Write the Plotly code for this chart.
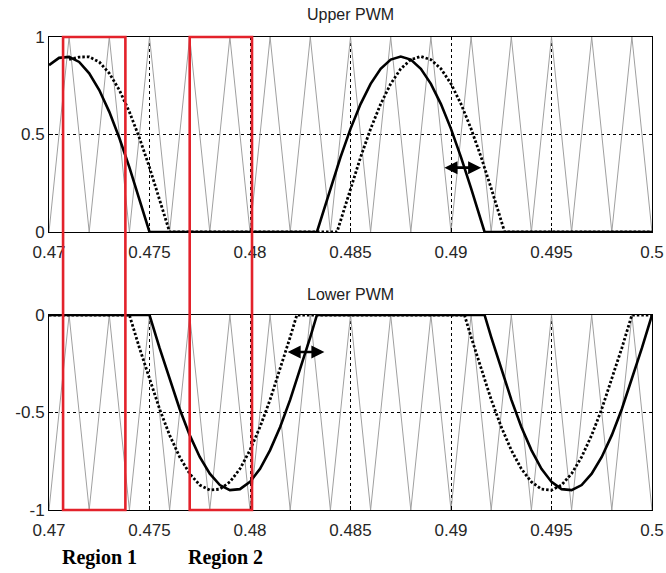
import plotly.graph_objects as go
from plotly.subplots import make_subplots

# ---- carrier (triangle) corner points ----
CARRIER_T = [0.470, 0.471, 0.472, 0.473, 0.474, 0.475, 0.476, 0.477, 0.478, 0.479,
             0.480, 0.481, 0.482, 0.483, 0.484, 0.485, 0.486, 0.487, 0.488, 0.489,
             0.490, 0.491, 0.492, 0.493, 0.494, 0.495, 0.496, 0.497, 0.498, 0.499, 0.500]
UPPER_CARRIER = [0, 1, 0, 1, 0, 1, 0, 1, 0, 1, 0, 1, 0, 1, 0, 1,
                 0, 1, 0, 1, 0, 1, 0, 1, 0, 1, 0, 1, 0, 1, 0]
LOWER_CARRIER = [-1, 0, -1, 0, -1, 0, -1, 0, -1, 0, -1, 0, -1, 0, -1, 0,
                 -1, 0, -1, 0, -1, 0, -1, 0, -1, 0, -1, 0, -1, 0, -1]

# ---- upper PWM reference (solid) ----
UPPER_SOLID_T = [0.4700, 0.4705, 0.4710, 0.4715, 0.4720, 0.4725, 0.4730, 0.4735, 0.4740, 0.4745, 0.4750,
                 0.48333,
                 0.4835, 0.4840, 0.4845, 0.4850, 0.4855, 0.4860, 0.4865, 0.4870, 0.4875,
                 0.4880, 0.4885, 0.4890, 0.4895, 0.4900, 0.4905, 0.4910, 0.4915,
                 0.49167, 0.5000]
UPPER_SOLID_V = [0.856, 0.893, 0.898, 0.872, 0.814, 0.728, 0.616, 0.482, 0.331, 0.169, 0.0,
                 0.0,
                 0.057, 0.224, 0.383, 0.529, 0.656, 0.760, 0.837, 0.884, 0.900,
                 0.884, 0.837, 0.760, 0.656, 0.529, 0.383, 0.224, 0.057,
                 0.0, 0.0]

# ---- upper PWM delayed reference (dotted) ----
UPPER_DOTTED_T = [0.4710, 0.4715, 0.4720, 0.4725, 0.4730, 0.4735, 0.4740, 0.4745, 0.4750, 0.4755, 0.4760,
                  0.48433,
                  0.4845, 0.4850, 0.4855, 0.4860, 0.4865, 0.4870, 0.4875, 0.4880, 0.4885,
                  0.4890, 0.4895, 0.4900, 0.4905, 0.4910, 0.4915, 0.4920, 0.4925,
                  0.49267, 0.5000]
UPPER_DOTTED_V = [0.885, 0.897, 0.898, 0.872, 0.814, 0.728, 0.616, 0.482, 0.331, 0.169, 0.0,
                  0.0,
                  0.057, 0.224, 0.383, 0.529, 0.656, 0.760, 0.837, 0.884, 0.900,
                  0.884, 0.837, 0.760, 0.656, 0.529, 0.383, 0.224, 0.057,
                  0.0, 0.0]

# ---- lower PWM reference (solid) ----
LOWER_SOLID_T = [0.4700, 0.4750,
                 0.4755, 0.4760, 0.4765, 0.4770, 0.4775, 0.4780, 0.4785, 0.4790,
                 0.4795, 0.4800, 0.4805, 0.4810, 0.4815, 0.4820, 0.4825, 0.4830,
                 0.48333, 0.49167,
                 0.4920, 0.4925, 0.4930, 0.4935, 0.4940, 0.4945, 0.4950, 0.4955,
                 0.4960, 0.4965, 0.4970, 0.4975, 0.4980, 0.4985, 0.4990, 0.4995,
                 0.5000]
LOWER_SOLID_V = [0.0, 0.0,
                 -0.169, -0.331, -0.482, -0.616, -0.728, -0.814, -0.872, -0.898,
                 -0.893, -0.856, -0.789, -0.693, -0.574, -0.434, -0.278, -0.113,
                 0.0, 0.0,
                 -0.113, -0.278, -0.434, -0.574, -0.693, -0.789, -0.856, -0.893,
                 -0.898, -0.872, -0.814, -0.728, -0.616, -0.482, -0.331, -0.169,
                 0.0]

# ---- lower PWM advanced reference (dotted) ----
LOWER_DOTTED_T = [0.4700, 0.4740,
                  0.4745, 0.4750, 0.4755, 0.4760, 0.4765, 0.4770, 0.4775, 0.4780,
                  0.4785, 0.4790, 0.4795, 0.4800, 0.4805, 0.4810, 0.4815, 0.4820,
                  0.48233, 0.49067,
                  0.4910, 0.4915, 0.4920, 0.4925, 0.4930, 0.4935, 0.4940, 0.4945,
                  0.4950, 0.4955, 0.4960, 0.4965, 0.4970, 0.4975, 0.4980, 0.4985,
                  0.4990, 0.5000]
LOWER_DOTTED_V = [0.0, 0.0,
                  -0.169, -0.331, -0.482, -0.616, -0.728, -0.814, -0.872, -0.898,
                  -0.893, -0.856, -0.789, -0.693, -0.574, -0.434, -0.278, -0.113,
                  0.0, 0.0,
                  -0.113, -0.278, -0.434, -0.574, -0.693, -0.789, -0.856, -0.893,
                  -0.898, -0.872, -0.814, -0.728, -0.616, -0.482, -0.331, -0.169,
                  0.0, 0.0]

# ---- axis ticks ----
X_TICKS = [0.47, 0.475, 0.48, 0.485, 0.49, 0.495, 0.5]
X_LABELS = ["0.47", "0.475", "0.48", "0.485", "0.49", "0.495", "0.5"]
UPPER_Y_TICKS = [0, 0.5, 1]
UPPER_Y_LABELS = ["0", "0.5", "1"]
LOWER_Y_TICKS = [-1, -0.5, 0]
LOWER_Y_LABELS = ["-1", "-0.5", "0"]

# ---- highlighted regions and shift arrows ----
REGIONS = [("Region 1", 0.4707, 0.4738), ("Region 2", 0.4770, 0.4801)]
UPPER_ARROW = (0.4896, 0.4915, 0.33)
LOWER_ARROW = (0.4818, 0.4837, -0.19)

W, H = 666, 573
X0, X1 = 49, 652          # plot area, px
UP_TOP, UP_BOT = 37, 232
LO_TOP, LO_BOT = 315, 510

def py(px):
    return 1 - px / H

fig = make_subplots(rows=2, cols=1)

CARRIER = dict(color="#a0a0a0", width=1)
SOLID = dict(color="black", width=2.6)
DOTTED = dict(color="black", width=2.8, dash="2.5px,2px")

fig.add_trace(go.Scatter(x=CARRIER_T, y=UPPER_CARRIER, mode="lines", line=CARRIER), row=1, col=1)
fig.add_trace(go.Scatter(x=UPPER_DOTTED_T, y=UPPER_DOTTED_V, mode="lines", line=DOTTED), row=1, col=1)
fig.add_trace(go.Scatter(x=UPPER_SOLID_T, y=UPPER_SOLID_V, mode="lines", line=SOLID), row=1, col=1)

fig.add_trace(go.Scatter(x=CARRIER_T, y=LOWER_CARRIER, mode="lines", line=CARRIER), row=2, col=1)
fig.add_trace(go.Scatter(x=LOWER_DOTTED_T, y=LOWER_DOTTED_V, mode="lines", line=DOTTED), row=2, col=1)
fig.add_trace(go.Scatter(x=LOWER_SOLID_T, y=LOWER_SOLID_V, mode="lines", line=SOLID), row=2, col=1)

TICK_FONT = dict(family="Liberation Sans, Arial, sans-serif", size=17, color="#262626")
common_x = dict(range=[0.47, 0.5], tickvals=X_TICKS, ticktext=X_LABELS,
                showline=True, mirror=True, linecolor="black", linewidth=1,
                ticks="inside", ticklen=4, tickcolor="black",
                showgrid=True, gridcolor="black", gridwidth=1, griddash="3px,3px",
                zeroline=False, tickfont=TICK_FONT, domain=[X0 / W, X1 / W],
                automargin=False, ticklabelstandoff=5)
common_y = dict(showline=True, mirror=True, linecolor="black", linewidth=1,
                ticks="inside", ticklen=4, tickcolor="black",
                showgrid=True, gridcolor="black", gridwidth=1, griddash="3px,3px",
                zeroline=False, tickfont=TICK_FONT, automargin=False,
                ticklabelstandoff=0)

fig.update_xaxes(**common_x)
fig.update_yaxes(**common_y)
fig.update_yaxes(range=[0, 1], tickvals=UPPER_Y_TICKS, ticktext=UPPER_Y_LABELS,
                 domain=[py(UP_BOT), py(UP_TOP)], row=1, col=1)
fig.update_yaxes(range=[-1, 0], tickvals=LOWER_Y_TICKS, ticktext=LOWER_Y_LABELS,
                 domain=[py(LO_BOT), py(LO_TOP)], row=2, col=1)

# red region boxes spanning both panels
for name, a, b in REGIONS:
    fig.add_shape(type="rect", xref="x", yref="paper", x0=a, x1=b,
                  y0=py(LO_BOT), y1=py(UP_TOP),
                  line=dict(color="#e3222b", width=2.6), layer="above")
    fig.add_annotation(x=(a + b) / 2, xref="x", y=py(557), yref="paper",
                       xanchor="center", yanchor="middle", xshift=5,
                       text="<b>%s</b>" % name, showarrow=False,
                       font=dict(family="Liberation Serif, Times New Roman, serif",
                                 size=20, color="black"))

# double-headed shift arrows
for (xa, xb, yv), xr, yr in [(UPPER_ARROW, "x", "y"), (LOWER_ARROW, "x2", "y2")]:
    fig.add_annotation(x=xb, y=yv, ax=xa, ay=yv, xref=xr, yref=yr, axref=xr, ayref=yr,
                       text="", showarrow=True, arrowhead=2, arrowside="end+start",
                       arrowsize=1, arrowwidth=2.6, arrowcolor="black")

TITLE_FONT = dict(family="Liberation Sans, Arial, sans-serif", size=16, color="#222222")
mid = (X0 + X1) / 2 / W
for label, ypx in [("Upper PWM", 15), ("Lower PWM", 294)]:
    fig.add_annotation(x=mid, y=py(ypx), xref="paper", yref="paper", text=label,
                       xanchor="center", yanchor="middle",
                       showarrow=False, font=TITLE_FONT)

fig.update_layout(width=W, height=H, margin=dict(l=0, r=0, t=0, b=0),
                  paper_bgcolor="white", plot_bgcolor="white", showlegend=False)

fig.write_html("out.html")
